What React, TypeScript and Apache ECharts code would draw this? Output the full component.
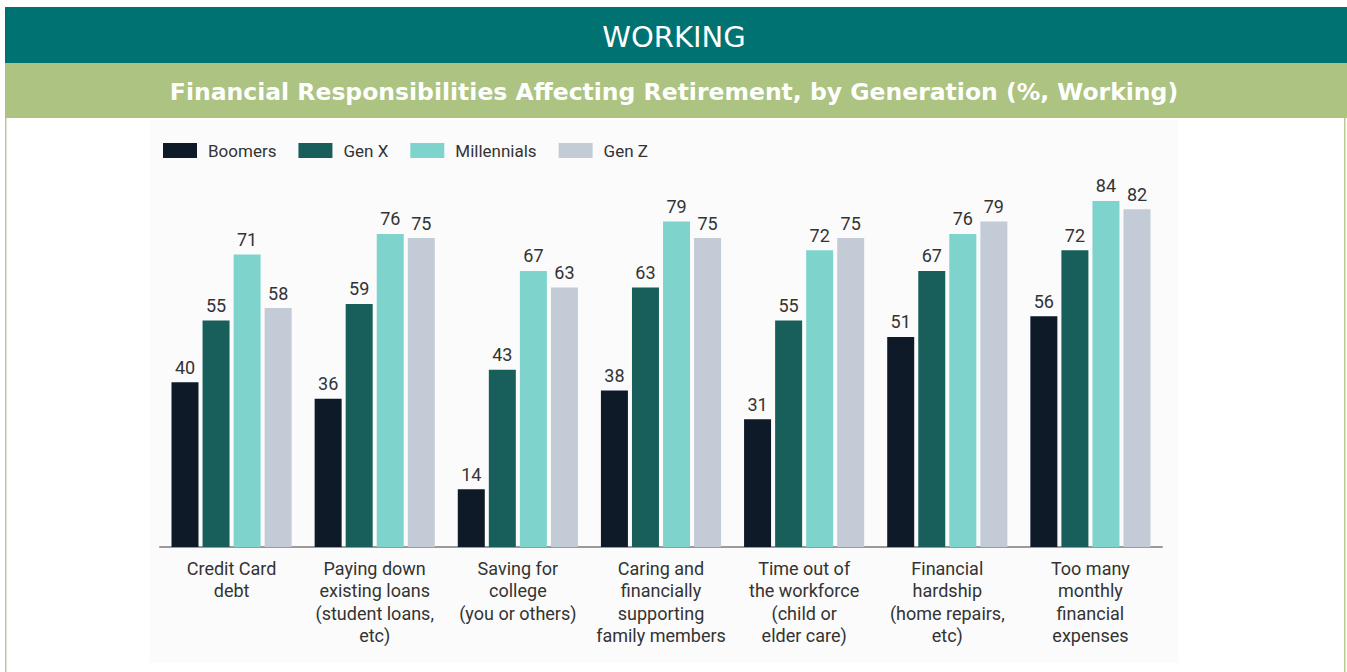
import React, { useEffect, useRef } from "react";
import * as echarts from "echarts";

const categories = [
  "Credit Card\ndebt",
  "Paying down\nexisting loans\n(student loans,\netc)",
  "Saving for\ncollege\n(you or others)",
  "Caring and\nfinancially\nsupporting\nfamily members",
  "Time out of\nthe workforce\n(child or\nelder care)",
  "Financial\nhardship\n(home repairs,\netc)",
  "Too many\nmonthly\nfinancial\nexpenses",
];
const seriesNames = ["Boomers", "Gen X", "Millennials", "Gen Z"];
const boomers = [40, 36, 14, 38, 31, 51, 56];
const genX = [55, 59, 43, 63, 55, 67, 72];
const millennials = [71, 76, 67, 79, 72, 76, 84];
const genZ = [58, 75, 63, 75, 75, 79, 82];
const colors = ["#0e1a28", "#185f5c", "#7fd3cd", "#c3cbd6"];
const headerTitle = "WORKING";
const subTitle = "Financial Responsibilities Affecting Retirement, by Generation (%, Working)";

const condensed = "Roboto, sans-serif";

export default function App() {
  const ref = useRef<HTMLDivElement>(null);
  useEffect(() => {
    document.body.style.margin = "0";
    const chart = echarts.init(ref.current!, undefined, { renderer: "svg" });
    const data = [boomers, genX, millennials, genZ];
    chart.setOption({
      animation: false,
      backgroundColor: "#ffffff",
      graphic: [
        { type: "rect", shape: { x: 150, y: 120, width: 1028, height: 543 }, style: { fill: "#fbfbfb" }, z: -10 },
        { type: "rect", shape: { x: 5, y: 7, width: 1342, height: 56 }, style: { fill: "#007272" } },
        { type: "rect", shape: { x: 5, y: 63, width: 1342, height: 55 }, style: { fill: "#acc381" } },
        { type: "rect", shape: { x: 5, y: 118, width: 1.5, height: 554 }, style: { fill: "#b6cc92" } },
        { type: "rect", shape: { x: 1344, y: 118, width: 1.5, height: 554 }, style: { fill: "#b6cc92" } },
        {
          type: "text", x: 674, y: 37,
          style: { text: headerTitle, fill: "#ffffff", font: "normal 29px 'DejaVu Sans', sans-serif", align: "center", verticalAlign: "middle" },
        },
        {
          type: "text", x: 674, y: 92,
          style: { text: subTitle, fill: "#ffffff", font: "bold 23.5px 'DejaVu Sans', sans-serif", align: "center", verticalAlign: "middle" },
        },
      ],
      legend: {
        left: 158,
        top: 137,
        itemWidth: 34,
        itemHeight: 15,
        itemGap: 22,
        icon: "rect",
        textStyle: { fontFamily: condensed, fontSize: 17, color: "#333", padding: [0, 0, 0, 6] },
        data: seriesNames,
      },
      grid: { left: 160, right: 185, top: 135, bottom: 125, containLabel: false },
      xAxis: {
        type: "category",
        data: categories,
        axisLine: { lineStyle: { color: "#9a9a9a", width: 2 } },
        axisTick: { show: false },
        axisLabel: { interval: 0, margin: 10, fontFamily: condensed, fontSize: 18, lineHeight: 22.5, color: "#333" },
      },
      yAxis: { type: "value", min: 0, max: 100, show: false, splitLine: { show: false } },
      series: seriesNames.map((name, i) => ({
        name,
        type: "bar",
        data: data[i],
        barWidth: 27,
        barGap: "15%",
        itemStyle: { color: colors[i] },
        label: { show: true, position: "top", distance: 6, fontFamily: condensed, fontSize: 18, color: "#333" },
      })),
    });
    return () => chart.dispose();
  }, []);
  return <div ref={ref} style={{ width: 1347, height: 672 }} />;
}
